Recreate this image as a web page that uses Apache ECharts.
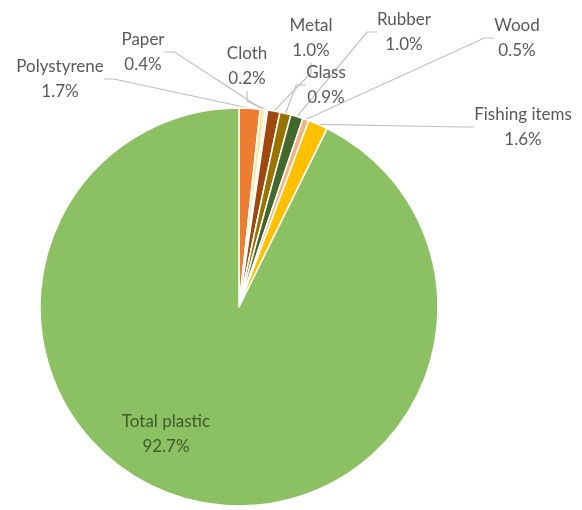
<!DOCTYPE html>
<html>
<head>
<meta charset="utf-8">
<script src="https://cdn.jsdelivr.net/npm/echarts@6/dist/echarts.min.js"></script>
<style>html,body{margin:0;padding:0;background:#fff}#c{width:582px;height:510px}</style>
</head>
<body>
<div id="c"></div>
<script>
const categories = ['Polystyrene','Paper','Cloth','Metal','Glass','Rubber','Wood','Fishing items','Total plastic'];
const values = [1.7, 0.4, 0.2, 1.0, 0.9, 1.0, 0.5, 1.6, 92.7];
const colors = ['#ED7D31','#FFE699','#FBE5D6','#9E480E','#997300','#43682B','#F4B183','#FFC000','#8CC163'];
const labelSpots = [[60,79],[143,52],[247,66],[311,38],[326,85],[404,32],[517,38],[523,127],[166,434]];

const chart = echarts.init(document.getElementById('c'));
chart.setOption({
  animation: false,
  series: [{
    type: 'pie',
    center: [239, 307],
    radius: [0, 199],
    startAngle: 90,
    clockwise: true,
    avoidLabelOverlap: false,
    itemStyle: { borderColor: '#fff', borderWidth: 1.5 },
    label: {
      show: true,
      position: 'outside',
      formatter: p => p.name + '\n' + p.value.toFixed(1) + '%',
      fontFamily: 'Lato, "Open Sans", sans-serif',
      fontSize: 17,
      lineHeight: 25,
      color: '#595959',
      align: 'center'
    },
    labelLine: { show: true, length: 10, length2: 10, lineStyle: { color: '#BFBFBF', width: 1.2 } },
    labelLayout: function (params) {
      const s = labelSpots[params.dataIndex];
      return { x: s[0], y: s[1], align: 'center', verticalAlign: 'middle' };
    },
    data: categories.map((c, i) => {
      const d = { name: c, value: values[i], itemStyle: { color: colors[i] } };
      if (c === 'Total plastic') {
        d.label = { position: 'inside', color: '#3F5A2A' };
        d.labelLine = { show: false };
      }
      return d;
    })
  }]
});
</script>
</body>
</html>
